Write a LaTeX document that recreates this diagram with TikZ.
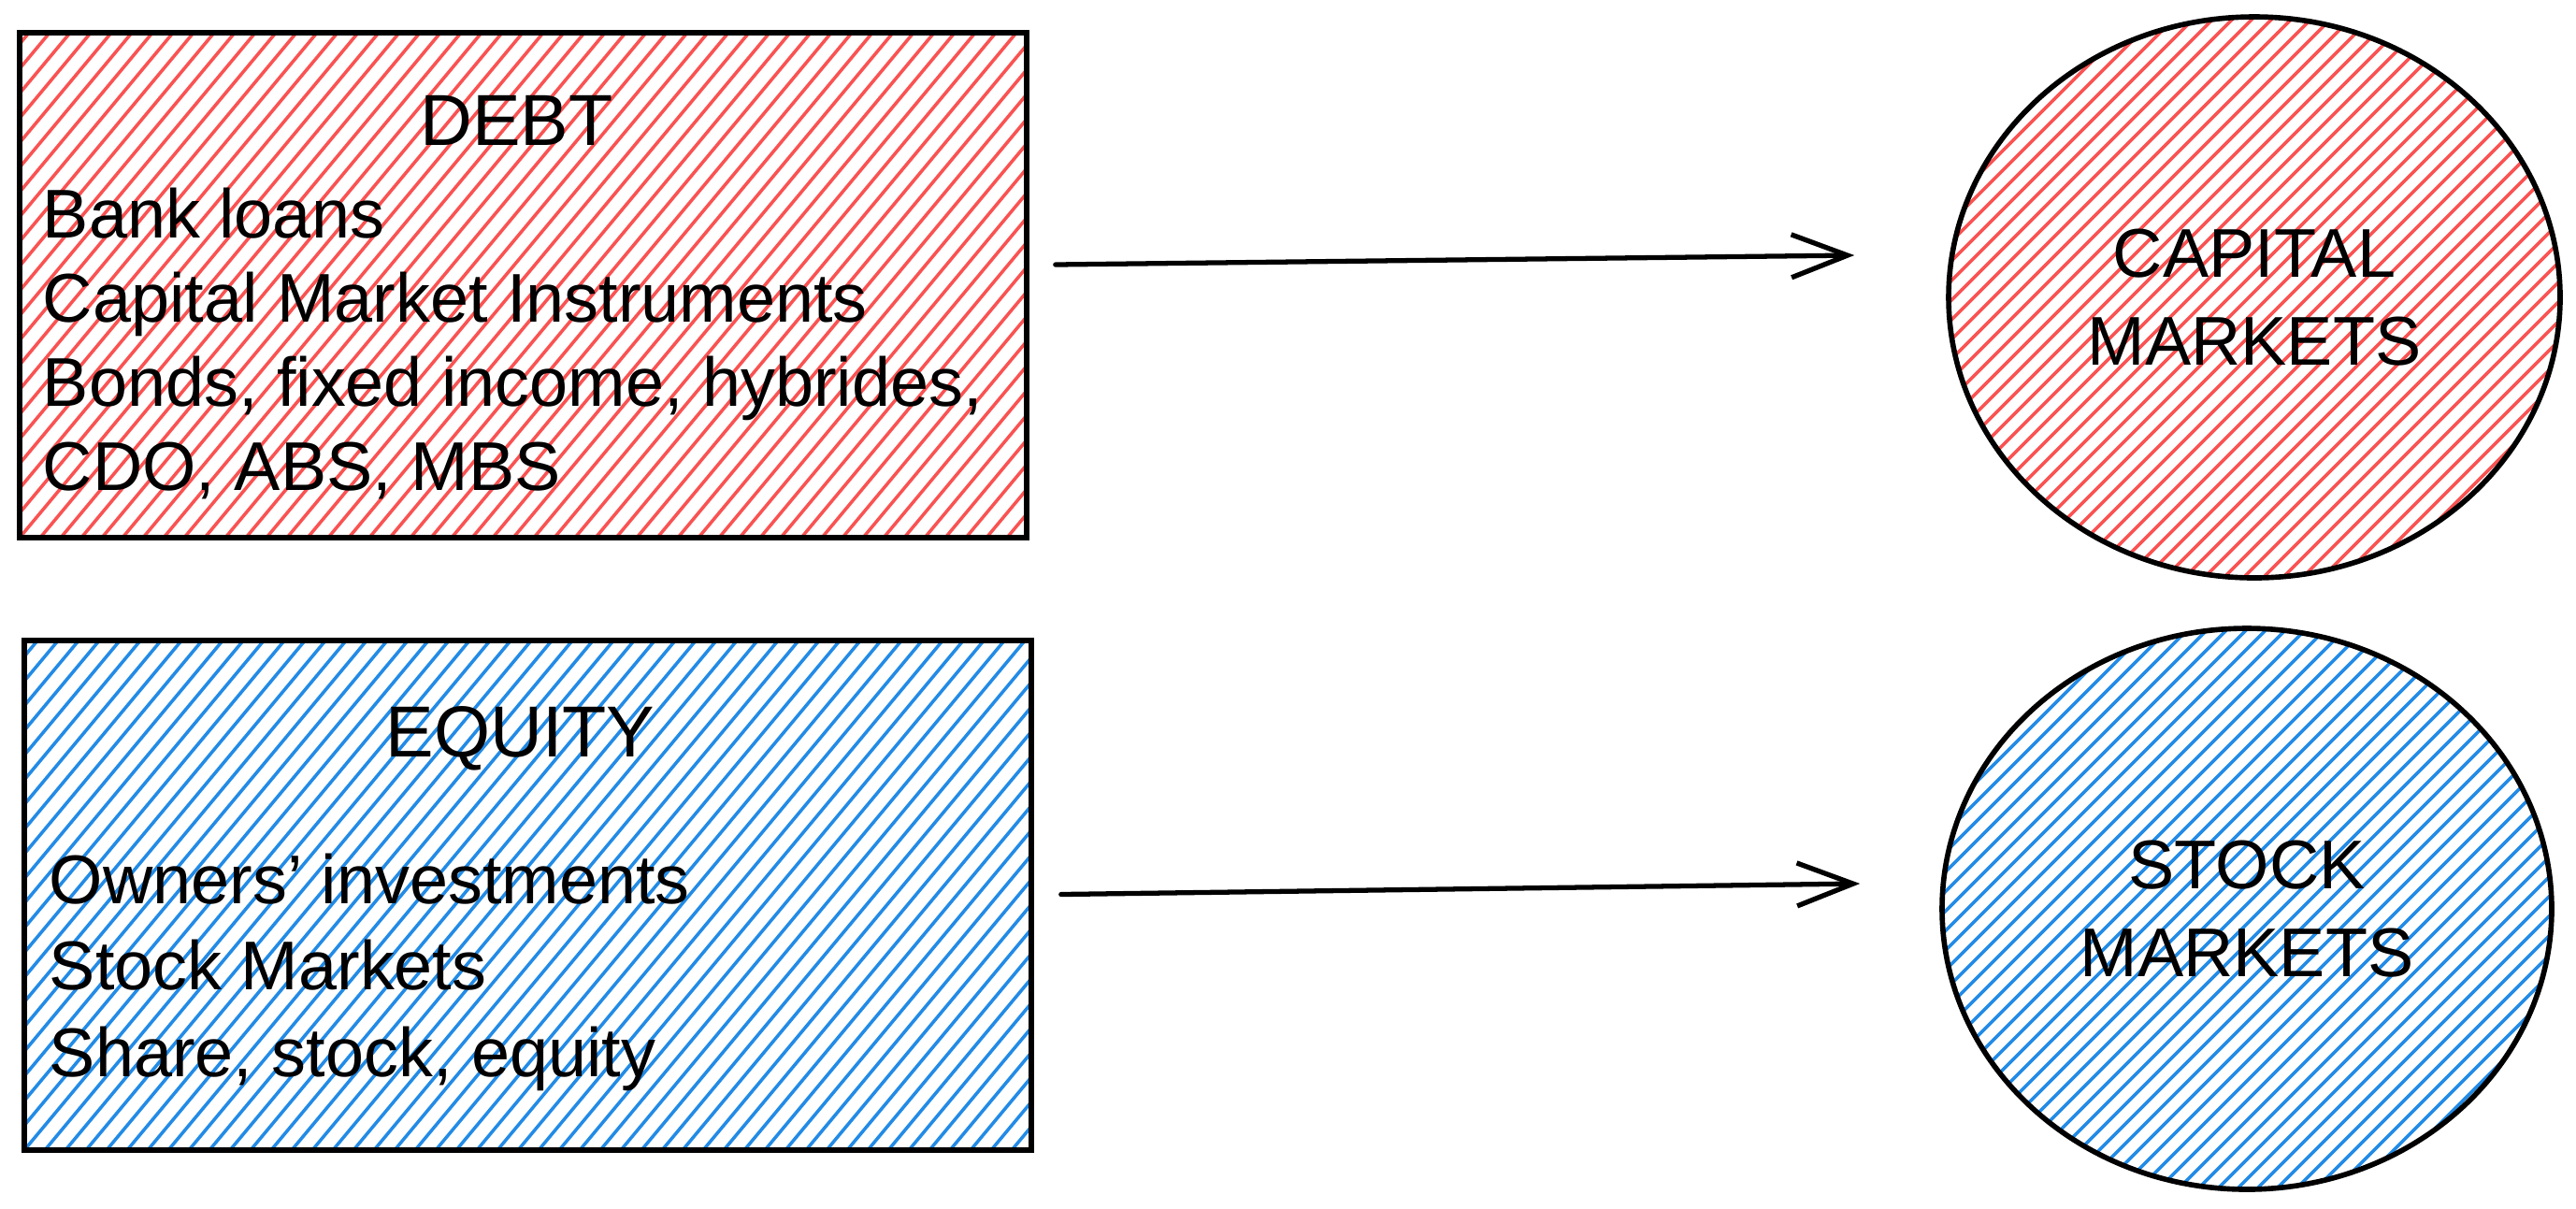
\documentclass[tikz,border=0pt]{standalone}
\usepackage{fontspec}
\setmainfont{Liberation Sans}
\usetikzlibrary{shapes.geometric,arrows.meta}

\definecolor{debtred}{HTML}{FA5252}
\definecolor{equityblue}{HTML}{228BE6}

\tikzset{
  boxhatch/.style={path picture={
      \foreach \i in {-25,...,55}
        \draw[#1,line width=1pt] ([xshift=\i*0.22cm]path picture bounding box.south west) -- ++(5,6);
    }},
  roundhatch/.style={path picture={
      \foreach \i in {-34,...,34}
        \draw[#1,line width=1pt] ([xshift=\i*0.21cm]path picture bounding box.south west) -- ++(7,7);
    }},
  sourcebox/.style={draw, line width=1.6pt, rectangle, minimum width=10.77cm, minimum height=5.4cm},
  market/.style={draw, line width=1.6pt, ellipse, minimum width=6.54cm, minimum height=6cm,
    align=center, font=\fontsize{21}{26.7}\selectfont},
  title/.style={font=\fontsize{22}{26}\selectfont, anchor=base, inner sep=0pt},
  bodytext/.style={font=\fontsize{21}{26}\selectfont, anchor=base west, inner sep=0pt},
  flow/.style={line width=1.5pt, line cap=round, line join=round,
    -{Straight Barb[length=6mm,width=4.6mm,line width=1.5pt]}}
}

\begin{document}
\begin{tikzpicture}
  \useasboundingbox (0,0) rectangle (27.55,-12.92);

  % sources of funds
  \node[sourcebox, boxhatch=debtred] (debt) at (5.595,-3.05) {};
  \node[sourcebox, boxhatch=equityblue, minimum height=5.45cm] (equity) at (5.645,-9.575) {};

  \node[title] (debttitle) at ([shift={(-0.07,-1.23)}]debt.north) {DEBT};
  \foreach \txt [count=\k] in {Bank loans, Capital Market Instruments,
      {Bonds, fixed income, hybrides,}, {CDO, ABS, MBS}}
    \node[bodytext] (debtline\k) at ([shift={(0.27,{-2.22-0.9*(\k-1)})}]debt.north west) {\txt};

  \node[title] (equitytitle) at ([shift={(-0.08,-1.27)}]equity.north) {EQUITY};
  \foreach \txt [count=\k] in {Owners' investments, Stock Markets, {Share, stock, equity}}
    \node[bodytext] (equityline\k) at ([shift={(0.29,{-2.84-0.925*(\k-1)})}]equity.north west) {\txt};

  % markets
  \node[market, roundhatch=debtred] (capital) at (24.11,-3.18) {CAPITAL\\MARKETS};
  \node[market, roundhatch=equityblue, minimum width=6.52cm] (stock) at (24.03,-9.72) {STOCK\\MARKETS};

  \draw[flow] ([shift={(0.28,0.22)}]debt.east) -- ([shift={(-0.98,0.45)}]capital.west);
  \draw[flow] ([shift={(0.29,0.01)}]equity.east) -- ([shift={(-0.85,0.27)}]stock.west);
\end{tikzpicture}
\end{document}
